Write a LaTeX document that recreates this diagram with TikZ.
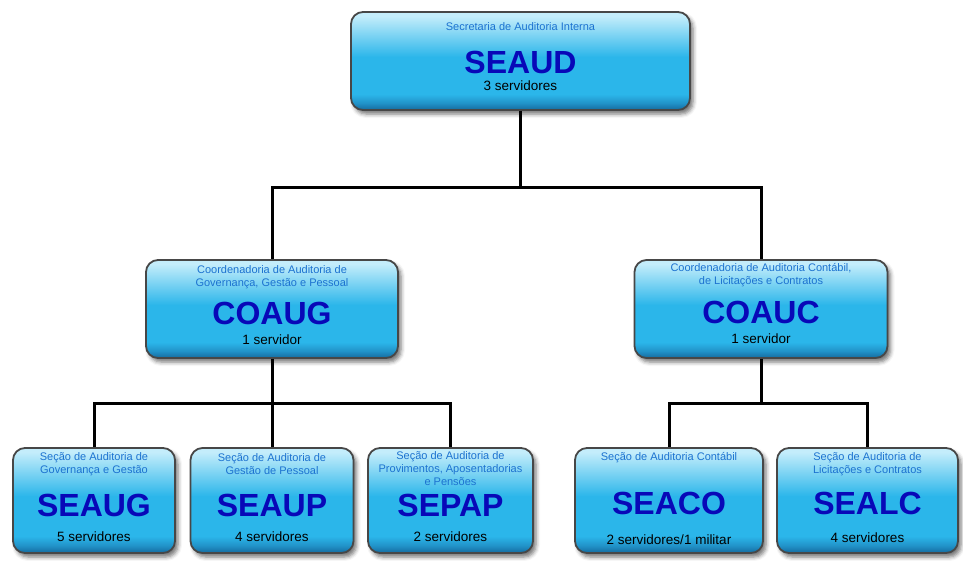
\documentclass[tikz,border=0pt]{standalone}
\usepackage{fontspec}
\setmainfont{Liberation Sans}
\usetikzlibrary{shadows.blur}
\definecolor{boxlt}{HTML}{C4EDFB}
\definecolor{boxmid}{HTML}{2BB6EA}
\definecolor{boxmd}{HTML}{2192C8}
\definecolor{boxdk}{HTML}{146A9E}
\definecolor{boxline}{HTML}{474747}
\definecolor{smallblue}{HTML}{1C72D0}
\definecolor{bigblue}{HTML}{0808B8}
\pgfdeclareverticalshading{orgshade}{100bp}{color(0bp)=(boxdk); color(25bp)=(boxdk); color(28.5bp)=(boxmd); color(33bp)=(boxmid); color(52bp)=(boxmid); color(73bp)=(boxlt); color(75bp)=(boxlt); color(100bp)=(boxlt)}
\tikzset{
  orgbox/.style={draw=boxline, line width=1.8pt, rounded corners=12pt, shading=orgshade,
    blur shadow={shadow xshift=3pt, shadow yshift=-4pt, shadow blur radius=4pt, shadow opacity=55},
    inner sep=0pt},
  conn/.style={line width=3pt, black},
  smalltxt/.style={font=\fontsize{11}{13}\selectfont, text=smallblue, align=center, inner sep=0pt},
  bigtxt/.style={font=\fontsize{32}{36}\selectfont\bfseries, text=bigblue, inner sep=0pt},
  cnttxt/.style={font=\fontsize{13.5}{15}\selectfont, text=black, inner sep=0pt}
}
\begin{document}
\begin{tikzpicture}[x=1pt, y=-1pt]
\useasboundingbox (0,0) rectangle (963,560);
% boxes
\node[orgbox, minimum width=339pt, minimum height=98pt] (seaud) at (520.5,61) {};
\node[orgbox, minimum width=252pt, minimum height=98pt] (coaug) at (272,309) {};
\node[orgbox, minimum width=253pt, minimum height=98pt] (coauc) at (761,309) {};
\node[orgbox, minimum width=162pt, minimum height=105pt] (seaug) at (94,500.5) {};
\node[orgbox, minimum width=163pt, minimum height=105pt] (seaup) at (272,500.5) {};
\node[orgbox, minimum width=165pt, minimum height=105pt] (sepap) at (450.5,500.5) {};
\node[orgbox, minimum width=188pt, minimum height=105pt] (seaco) at (669,500.5) {};
\node[orgbox, minimum width=181pt, minimum height=105pt] (sealc) at (867.5,500.5) {};
% connectors
\coordinate (j0) at (520.5,187);
\coordinate (j1) at (272,403);
\coordinate (j2) at (761,403);
\draw[conn] (seaud.south) -- (j0);
\draw[conn] (coaug.north) |- (j0) -| (coauc.north);
\draw[conn] (coaug.south) -- (seaup.north);
\draw[conn] (seaug.north) |- (j1) -| (sepap.north);
\draw[conn] (coauc.south) -- (j2);
\draw[conn] (seaco.north) |- (j2) -| (sealc.north);
% texts
\node[smalltxt] (t1a) at (520.5,27) {Secretaria de Auditoria Interna};
\node[bigtxt] (t1b) at (520.5,62) {SEAUD};
\node[cnttxt] (t1c) at (520.5,86) {3 servidores};
\node[smalltxt] (t2a) at (272,277) {Coordenadoria de Auditoria de\\Governança, Gestão e Pessoal};
\node[bigtxt] (t2b) at (272,313) {COAUG};
\node[cnttxt] (t2c) at (272,340) {1 servidor};
\node[smalltxt] (t3a) at (761,275) {Coordenadoria de Auditoria Contábil,\\de Licitações e Contratos};
\node[bigtxt] (t3b) at (761,312) {COAUC};
\node[cnttxt] (t3c) at (761,339) {1 servidor};
\node[smalltxt] (t4a) at (94,464) {Seção de Auditoria de\\Governança e Gestão};
\node[bigtxt] (t4b) at (94,505) {SEAUG};
\node[cnttxt] (t4c) at (94,537) {5 servidores};
\node[smalltxt] (t5a) at (272,464) {Seção de Auditoria de\\Gestão de Pessoal};
\node[bigtxt] (t5b) at (272,505) {SEAUP};
\node[cnttxt] (t5c) at (272,537) {4 servidores};
\node[smalltxt] (t6a) at (450.5,469) {Seção de Auditoria de\\Provimentos, Aposentadorias\\e Pensões};
\node[bigtxt] (t6b) at (450.5,505) {SEPAP};
\node[cnttxt] (t6c) at (450.5,537) {2 servidores};
\node[smalltxt] (t7a) at (669,458) {Seção de Auditoria Contábil};
\node[bigtxt] (t7b) at (669,503) {SEACO};
\node[cnttxt] (t7c) at (669,540) {2 servidores/1 militar};
\node[smalltxt] (t8a) at (867.5,464) {Seção de Auditoria de\\Licitações e Contratos};
\node[bigtxt] (t8b) at (867.5,503) {SEALC};
\node[cnttxt] (t8c) at (867.5,538) {4 servidores};
\end{tikzpicture}
\end{document}
